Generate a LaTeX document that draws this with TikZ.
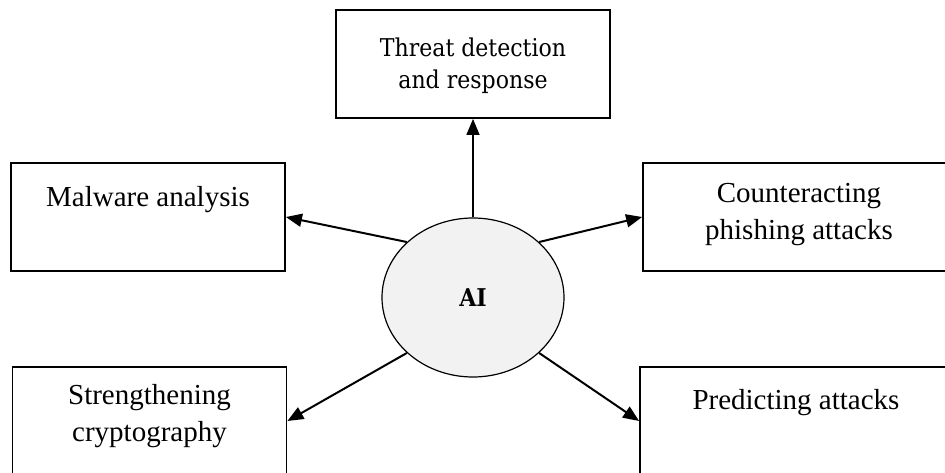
\documentclass[tikz,border=0pt]{standalone}
\usepackage{fontspec}
\setmainfont{Liberation Serif}
\newfontfamily\headfont{DejaVu Serif Condensed}
\usetikzlibrary{shapes.geometric,arrows.meta}

\definecolor{aigray}{HTML}{F2F2F2}

\tikzset{
    box/.style={draw, line width=1.8pt, minimum width=274pt, minimum height=108pt, inner sep=0pt},
    widebox/.style={box, minimum width=312pt},
    txt/.style={align=center, anchor=base, inner sep=0pt, font=\fontsize{29}{37}\selectfont},
    headtxt/.style={txt, font=\headfont\fontsize{24.5}{32}\selectfont},
    arr/.style={-{Triangle[length=16pt,width=13pt]}, line width=2pt},
}

\begin{document}
\begin{tikzpicture}[x=1pt,y=1pt]
            \useasboundingbox (0,0) rectangle (945,472);

            \node[box]     (threat)   at (473,408) {};
            \node[box]     (malware)  at (148,255) {};
            \node[widebox] (phishing) at (799,255) {};
            \node[box]     (crypto)   at (149.5,51) {};
            \node[widebox] (predict)  at (796,51) {};

            % base of a two-line node is its last line
            \node[headtxt] (threattxt)   at ([yshift=-79pt]threat.north)   {Threat detection\\and response};
            \node[txt]     (malwaretxt)  at ([yshift=-44pt]malware.north)  {Malware analysis};
            \node[txt]     (phishingtxt) at ([yshift=-77pt]phishing.north) {Counteracting\\phishing attacks};
            \node[txt]     (cryptotxt)   at ([yshift=-75pt]crypto.north)   {Strengthening\\cryptography};
            \node[txt]     (predicttxt)  at ([yshift=-43pt]predict.north)  {Predicting attacks};

            \node[ellipse, draw, fill=aigray, line width=1.2pt, minimum width=182pt, minimum height=159pt, inner sep=0pt,
                  font=\headfont\bfseries\fontsize{24.5}{29}\selectfont] (ai) at (473,174.5) {AI};

            \draw[arr, line width=1.5pt] (ai.north) -- (threat.south);
            \draw[arr] (ai.140) -- (malware.east);
            \draw[arr] (ai.40)  -- (phishing.west);
            \draw[arr] (ai.220) -- (crypto.east);
            \draw[arr] (ai.320) -- (predict.west);
\end{tikzpicture}
\end{document}
